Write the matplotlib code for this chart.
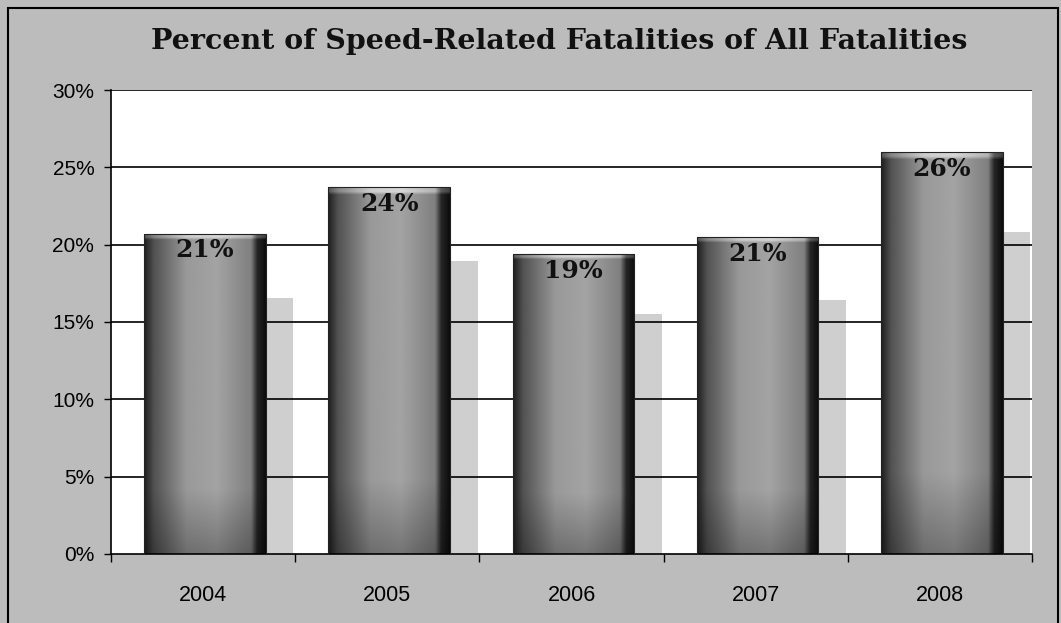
import numpy as np
import matplotlib
matplotlib.use("Agg")
import matplotlib.pyplot as plt
from matplotlib.patches import Rectangle
from matplotlib.ticker import FixedLocator, PercentFormatter

years = ["2004", "2005", "2006", "2007", "2008"]
values = [20.7, 23.7, 19.4, 20.5, 26.0]
labels = ["21%", "24%", "19%", "21%", "26%"]
yticks = [0, 5, 10, 15, 20, 25, 30]
title = "Percent of Speed-Related Fatalities of All Fatalities"

bg = "#bcbcbc"
fig = plt.figure(figsize=(10.61, 6.23), dpi=100, facecolor=bg)
ax = fig.add_axes([0.1046, 0.1108, 0.8681, 0.7447])
ax.set_facecolor("white")

n = len(years)
ax.set_xlim(0, n)
ax.set_ylim(0, 30)

# gradient for bars
w = 200
xs = np.linspace(0, 1, w)
prof = np.interp(xs, [0, 0.08, 0.35, 0.6, 0.88, 0.93, 1.0],
                 [0.12, 0.32, 0.6, 0.64, 0.5, 0.15, 0.05])
ys = np.linspace(0, 1, 120)[:, None]
vert = np.clip(0.72 + 0.28 * (ys / 0.2), 0, 1)  # darker near bottom
grad = prof[None, :] * vert
top_band = (ys > 0.985)
grad = np.where(top_band, np.clip(grad + 0.2, 0, 0.85), grad)

# gridlines drawn explicitly so they pass over the shadows
for yv in yticks[1:]:
    ax.axhline(yv, color="black", linewidth=1.2, zorder=1)

bar_w = 0.66
for i, v in enumerate(values):
    x0 = i + 0.18
    # shadow
    sh = Rectangle((x0 + bar_w, 0), 0.15, v * 0.8, facecolor="#cfcfcf",
                   edgecolor="none", zorder=0.3)
    ax.add_patch(sh)
    rect = Rectangle((x0, 0), bar_w, v, facecolor="none", edgecolor="#222222",
                     linewidth=0.8, zorder=3)
    ax.add_patch(rect)
    im = ax.imshow(grad, cmap="gray", vmin=0, vmax=1, origin="lower",
                   extent=(x0, x0 + bar_w, 0, v), aspect="auto",
                   interpolation="bilinear", zorder=2.5)
    im.set_clip_path(rect)
    ax.text(x0 + bar_w / 2, v - 0.3, labels[i], ha="center", va="top",
            fontsize=18, fontweight="bold", family="DejaVu Serif",
            color="#111111", zorder=4)

ax.set_xlim(0, n)
ax.set_ylim(0, 30)
ax.set_yticks(yticks)
ax.yaxis.set_major_formatter(PercentFormatter(decimals=0))
ax.set_xticks(np.arange(n) + 0.5)
ax.set_xticklabels(years)
ax.xaxis.set_minor_locator(FixedLocator(np.arange(0, n + 1)))
ax.tick_params(axis="x", which="major", length=0, pad=22, labelsize=15.5)
ax.tick_params(axis="x", which="minor", length=6, width=1, direction="out")
ax.tick_params(axis="y", length=5, width=1, labelsize=15, pad=7)
for t in ax.get_xticklabels() + ax.get_yticklabels():
    t.set_family("Liberation Sans")

for s in ["top", "right"]:
    ax.spines[s].set_visible(False)
ax.spines["left"].set_linewidth(1.2)
ax.spines["bottom"].set_linewidth(1.2)

fig.text(0.527, 0.934, title, ha="center", va="center", fontsize=20.5,
         fontweight="bold", family="DejaVu Serif", color="#111111")

fig.patches.append(Rectangle((0.008, -0.02), 0.989, 1.007, transform=fig.transFigure,
                             fill=False, edgecolor="black", linewidth=1.5))

fig.savefig("out.png", dpi=100, facecolor=bg)
